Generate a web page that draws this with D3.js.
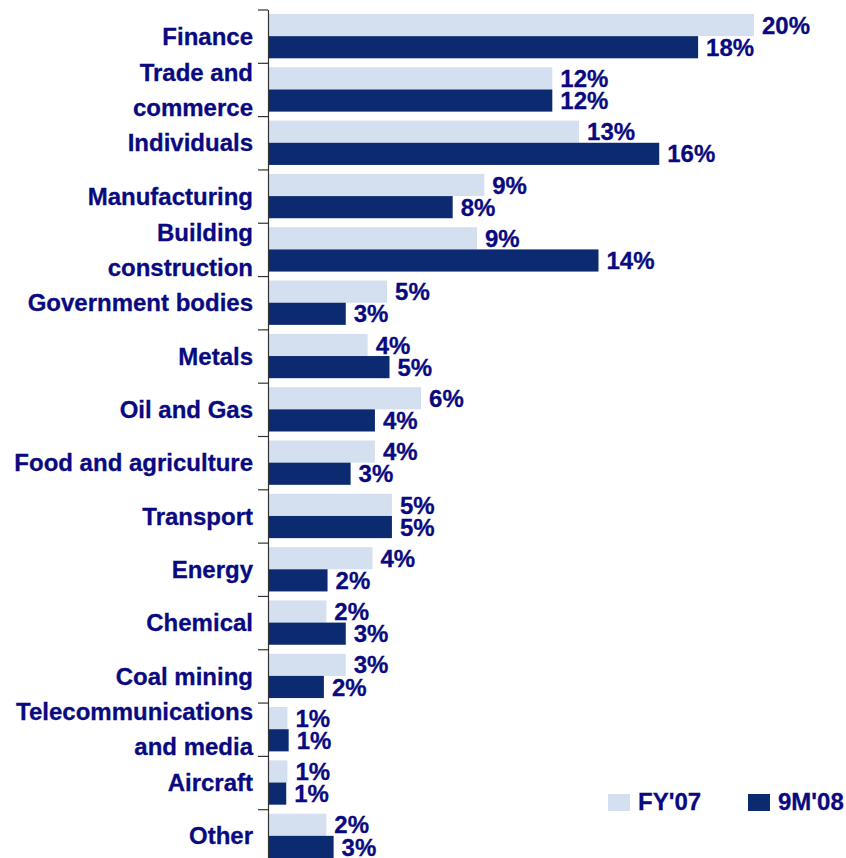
<!DOCTYPE html>
<html>
<head>
<meta charset="utf-8">
<script src="https://cdn.jsdelivr.net/npm/d3@7"></script>
<style>
  html, body { margin: 0; padding: 0; background: #fff; }
  text { font-family: "Liberation Sans", Arial, sans-serif; font-weight: bold; fill: #0a0a80;
         stroke: #0a0a80; stroke-width: 0.3px; }
</style>
</head>
<body>
<div id="container"></div>
<script>
var WIDTH = 846,
	HEIGHT = 858,
	AXIS_X = 268,
	TOP = 9.5,
	BOTTOM = 862.5,
	FONT = '24px';

// category labels (two-line labels split by "|")
var categories = ["Finance", "Trade and|commerce", "Individuals", "Manufacturing",
	"Building|construction", "Government bodies", "Metals", "Oil and Gas",
	"Food and agriculture", "Transport", "Energy", "Chemical", "Coal mining",
	"Telecommunications|and media", "Aircraft", "Other"];

var seriesNames = ["FY'07", "9M'08"];

// shares in %
var fy07 = [20.0, 11.7, 12.8, 8.9, 8.6, 4.9, 4.1, 6.3, 4.4, 5.1, 4.3, 2.4, 3.2, 0.8, 0.8, 2.4];
var m908 = [17.7, 11.7, 16.1, 7.6, 13.6, 3.2, 5.0, 4.4, 3.4, 5.1, 2.45, 3.2, 2.3, 0.85, 0.75, 2.7];

var colors = ["#d4e0ef", "#0b2a6f"];

var xScale = d3.scaleLinear().domain([0, 20]).range([AXIS_X, AXIS_X + 486]);
var yScale = d3.scaleBand().domain(categories).range([TOP, BOTTOM]);
var ySub = d3.scaleBand().domain(seriesNames).range([4.5, yScale.bandwidth() - 4.5]);
var edgeScale = d3.scaleLinear().domain([0, categories.length]).range([TOP, BOTTOM]);

var fmt = function (v) { return Math.round(v) + "%"; };

var translate = function (x, y) {
	return "translate(" + x + "," + y + ")";
};

var rows = categories.map(function (c, i) {
	return { cat: c, values: [fy07[i], m908[i]] };
});

function drawAxis(svg) {
	var _axis = d3.axisLeft(edgeScale)
		.tickValues(d3.range(categories.length + 1))
		.tickFormat("")
		.tickSize(10)
		.tickSizeOuter(0);
	var g = svg.append('g')
		.attr('transform', translate(AXIS_X, 0))
		.call(_axis);
	g.selectAll('line, path').attr('stroke', '#333').attr('stroke-width', 1.2);
}

function drawLabels(svg) {
	var g = svg.append('g');
	rows.forEach(function (r) {
		var lines = r.cat.split("|");
		var cy = yScale(r.cat) + yScale.bandwidth() / 2;
		lines.forEach(function (line, j) {
			var dy = lines.length === 1 ? 0 : (j === 0 ? -17.5 : 17.5);
			g.append('text')
				.attr('x', AXIS_X - 15)
				.attr('y', cy + dy)
				.attr('dy', '0.36em')
				.attr('text-anchor', 'end')
				.style('font-size', FONT)
				.text(line);
		});
	});
}

function drawBars(svg) {
	var groups = svg.selectAll('g.cat').data(rows).enter()
		.append('g')
		.classed('cat', true)
		.attr('transform', function (d) { return translate(0, yScale(d.cat)); });

	groups.selectAll('rect').data(function (d) { return d.values; }).enter()
		.append('rect')
		.attr('x', xScale(0) + 1)
		.attr('y', function (d, i) { return ySub(seriesNames[i]); })
		.attr('width', function (d) { return xScale(d) - xScale(0) - 1; })
		.attr('height', ySub.bandwidth())
		.attr('fill', function (d, i) { return colors[i]; });

	groups.selectAll('text').data(function (d) { return d.values; }).enter()
		.append('text')
		.attr('x', function (d) { return xScale(d) + 8; })
		.attr('y', function (d, i) { return ySub(seriesNames[i]) + ySub.bandwidth() / 2; })
		.attr('dy', '0.36em')
		.style('font-size', FONT)
		.text(fmt);
}

function drawLegend(svg) {
	var pos = [608, 748];
	var g = svg.append('g');
	seriesNames.forEach(function (s, i) {
		g.append('rect')
			.attr('x', pos[i]).attr('y', 794)
			.attr('width', 22).attr('height', 17)
			.attr('fill', colors[i]);
		g.append('text')
			.attr('x', pos[i] + 30).attr('y', 810)
			.style('font-size', FONT)
			.text(s);
	});
}

function drawChart() {
	var svg = d3.select('#container')
		.append('svg')
		.attr('width', WIDTH)
		.attr('height', HEIGHT);
	drawBars(svg);
	drawAxis(svg);
	drawLabels(svg);
	drawLegend(svg);
}

window.onload = drawChart;
</script>
</body>
</html>
